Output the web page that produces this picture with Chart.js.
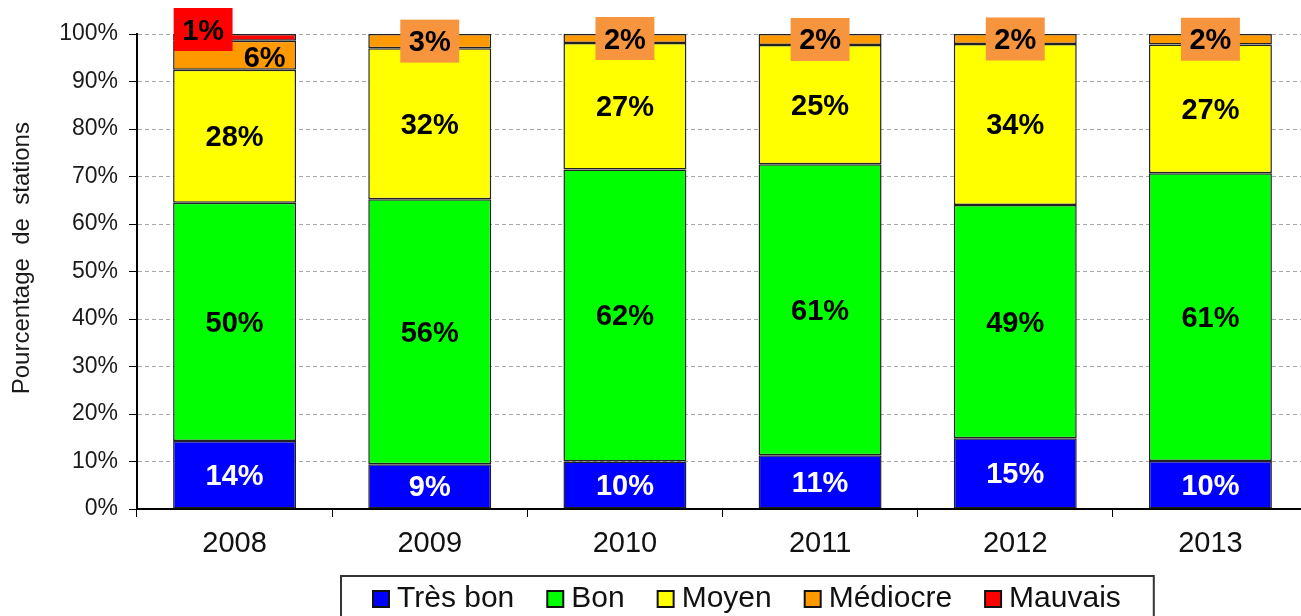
<!DOCTYPE html>
<html lang="fr">
<head>
<meta charset="UTF-8" />
<title>Pourcentage de stations par classe</title>
<style>
  html, body {
    margin: 0;
    padding: 0;
    background: #fff;
    overflow: hidden;
  }
  canvas { display: block; }
</style>
</head>
<body>
<canvas id="chart" width="1310" height="616"></canvas>

<script src="https://cdn.jsdelivr.net/npm/chart.js"></script>
<script>
  // values (% of stations, each year sums to 100)
  const years = ['2008', '2009', '2010', '2011', '2012', '2013'];
  const tresBon  = [14.3,  9.4, 10.0, 11.3, 14.9, 10.1];
  const bon      = [50.2, 55.8, 61.5, 61.3, 49.1, 60.6];
  const moyen    = [28.0, 31.8, 26.6, 25.1, 33.9, 27.1];
  const mediocre = [ 6.1,  3.0,  1.9,  2.3,  2.1,  2.2];
  const mauvais  = [ 1.4,  0,    0,    0,    0,    0  ];
  const yTicks = [0, 10, 20, 30, 40, 50, 60, 70, 80, 90, 100];

  const FONT = '"Liberation Sans", Arial, sans-serif';

  // labels inside the segments (small ones get a coloured box)
  const segmentLabels = {
    id: 'segmentLabels',
    afterDatasetsDraw(chart) {
      const ctx = chart.ctx;
      ctx.save();
      ctx.font = 'bold 29px ' + FONT;
      ctx.textAlign = 'center';
      ctx.textBaseline = 'middle';
      chart.data.datasets.forEach((ds, di) => {
        const meta = chart.getDatasetMeta(di);
        meta.data.forEach((bar, i) => {
          const v = ds.data[i];
          if (!v) return;
          const txt = Math.round(v) + '%';
          const top = Math.min(bar.y, bar.base);
          const bottom = Math.max(bar.y, bar.base);
          const left = bar.x - bar.width / 2;
          let cx = bar.x;
          let cy = (top + bottom) / 2;
          let box = null;
          if (ds.label === 'Mauvais') {
            box = '#ff0000';
            cx = left + 30;
            cy = top - 4.5;
          } else if (ds.label === 'Médiocre' && mauvais[i] > 0) {
            cx = bar.x + 30;
            cy = cy + 2;
          } else if (bottom - top < 20) {
            box = '#f7953f';
          }
          if (box) {
            const w = ctx.measureText(txt).width + 17;
            ctx.fillStyle = box;
            ctx.fillRect(cx - w / 2, cy - 21.5, w, 43);
          }
          ctx.fillStyle = ds.label === 'Très bon' ? '#ffffff' : '#000000';
          ctx.fillText(txt, cx, cy + 2);
        });
      });
      ctx.restore();
    }
  };

  // boxed legend under the chart
  const boxedLegend = {
    id: 'boxedLegend',
    afterDraw(chart) {
      const ctx = chart.ctx;
      ctx.save();
      ctx.font = '30px ' + FONT;
      ctx.textBaseline = 'alphabetic';
      let x = 373;
      chart.data.datasets.forEach(ds => {
        ctx.fillStyle = ds.backgroundColor;
        ctx.fillRect(x, 591, 16, 16);
        ctx.lineWidth = 2;
        ctx.strokeStyle = '#111';
        ctx.strokeRect(x, 591, 16, 16);
        ctx.fillStyle = '#111';
        ctx.fillText(ds.label, x + 24, 607);
        x += 24 + ctx.measureText(ds.label).width + 33;
      });
      ctx.lineWidth = 2;
      ctx.strokeStyle = '#333';
      ctx.strokeRect(341, 576, x - 341, 60);
      ctx.restore();
    }
  };

  const ctx = document.getElementById('chart').getContext('2d');
  new Chart(ctx, {
    type: 'bar',
    data: {
      labels: years,
      datasets: [
        { label: 'Très bon', data: tresBon,  backgroundColor: '#0000ff' },
        { label: 'Bon',      data: bon,      backgroundColor: '#00ff00' },
        { label: 'Moyen',    data: moyen,    backgroundColor: '#ffff00' },
        { label: 'Médiocre', data: mediocre, backgroundColor: '#ff9900' },
        { label: 'Mauvais',  data: mauvais,  backgroundColor: '#ff0000' }
      ].map(d => Object.assign(d, {
        borderColor: '#222',
        borderWidth: 1.5,
        borderSkipped: false,
        barPercentage: 0.63,
        categoryPercentage: 1
      }))
    },
    options: {
      responsive: false,
      animation: false,
      layout: { padding: { top: 34, right: 2, bottom: 60, left: 0 } },
      plugins: {
        legend: { display: false },
        tooltip: { enabled: false }
      },
      scales: {
        x: {
          stacked: true,
          afterFit(scale) { scale.height = 47; },
          grid: {
            offset: true,
            drawOnChartArea: false,
            tickLength: 8,
            tickColor: '#000'
          },
          border: { color: '#000', width: 2 },
          ticks: {
            color: '#111',
            padding: 10,
            font: { family: FONT, size: 29 }
          }
        },
        y: {
          stacked: true,
          min: 0,
          max: 100,
          afterFit(scale) { scale.width = 137; },
          afterBuildTicks(scale) {
            scale.ticks = yTicks.map(v => ({ value: v }));
          },
          grid: {
            color: '#a8a8a8',
            tickColor: '#000',
            tickLength: 8,
            tickBorderDash: []
          },
          border: { color: '#000', width: 2, dash: [4, 3] },
          ticks: {
            color: '#1a1a1a',
            padding: 11,
            font: { family: FONT, size: 23 },
            callback: v => v + '%'
          },
          title: {
            display: true,
            text: '    Pourcentage  de  stations',
            color: '#1a1a1a',
            font: { family: FONT, size: 24 },
            padding: { top: 8, bottom: 0 }
          }
        }
      }
    },
    plugins: [segmentLabels, boxedLegend]
  });
</script>
</body>
</html>
